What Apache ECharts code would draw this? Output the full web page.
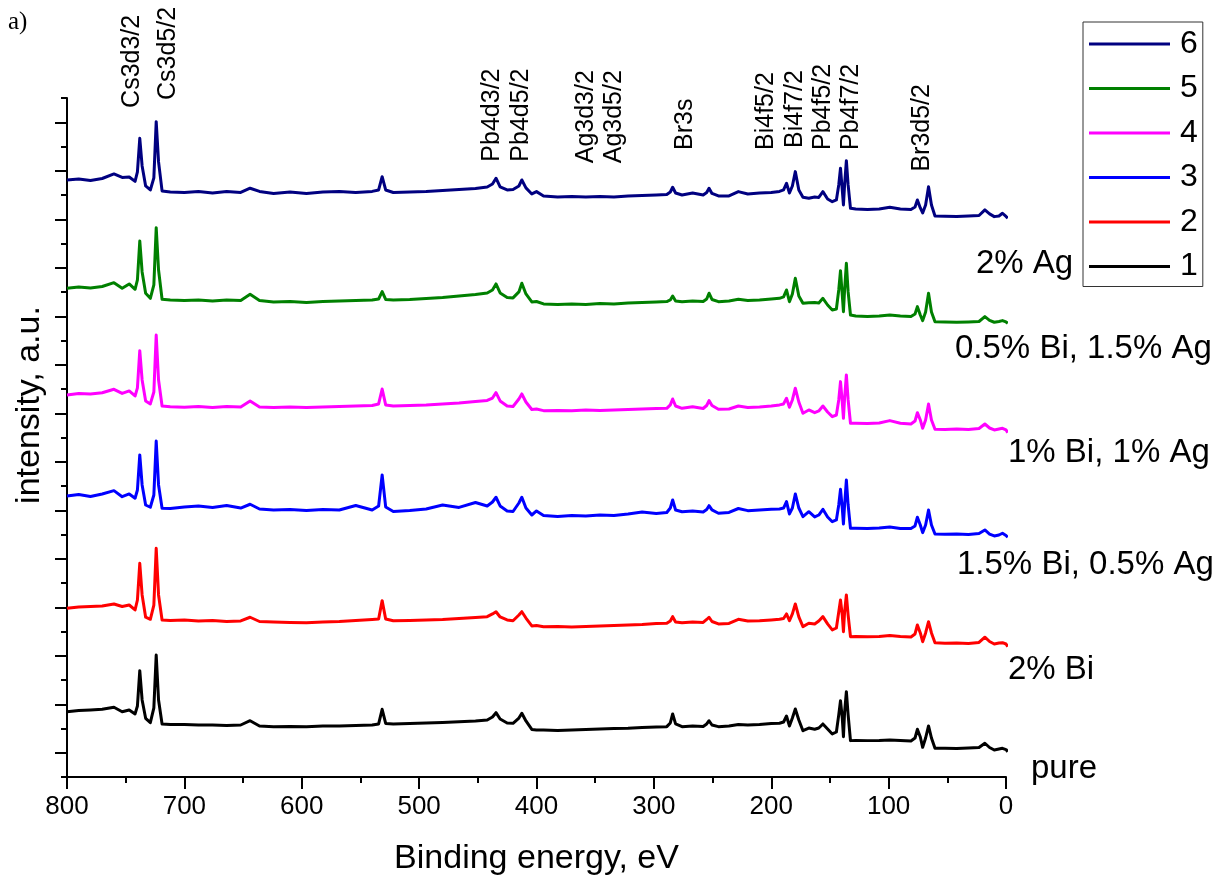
<!DOCTYPE html>
<html>
<head>
<meta charset="utf-8">
<script src="https://cdn.jsdelivr.net/npm/echarts@6/dist/echarts.min.js"></script>
<style>
  html, body { margin: 0; padding: 0; background: #ffffff; }
  #chart { width: 1232px; height: 881px; }
</style>
</head>
<body>
<div id="chart"></div>
<script>
// XPS survey spectra, binding energy in eV (descending), intensity in a.u. with vertical offsets
const energies = [
  800, 790, 780, 770, 760, 753, 747, 742, 740, 738,
  736, 733, 729, 726, 724, 722, 719, 712, 700, 688,
  676, 664, 652, 644, 636, 624, 610, 596, 582, 568,
  554, 540, 534.5, 531.5, 528.5, 522, 508, 494, 480, 466,
  452, 442, 437.5, 434.5, 431, 425, 420, 415, 412.5, 409,
  404, 400, 394, 382, 370, 358, 346, 334, 322, 310,
  298, 289, 286, 284, 281.5, 276, 267, 258, 255, 253,
  250.5, 245, 236, 228, 220, 210, 200, 193, 189.5, 187,
  184.5, 182, 179.5, 176.5, 173, 168, 163, 159.5, 156, 152,
  148, 144.5, 142.5, 141, 139.5, 138.5, 137.5, 136, 134.5, 132.5,
  128, 118, 108, 99, 90, 81, 77.5, 75.5, 73, 71,
  68.5, 66, 63.5, 60.5, 52, 42, 32, 23, 18, 14,
  10, 6, 3, 0, -1.5
];

// 1: pure
const pure = [
  67.3, 68.6, 69.1, 69.8, 71.9, 67.3, 69.1, 65.0, 73.2, 109.6,
  79.4, 60.5, 56.0, 71.2, 125.8, 79.4, 54.7, 54.1, 54.1, 53.6,
  53.6, 53.1, 53.6, 58.0, 52.6, 51.9, 52.1, 51.9, 52.6, 52.6,
  53.1, 53.6, 54.7, 69.8, 55.2, 54.7, 55.2, 55.7, 56.2, 57.0,
  57.8, 58.8, 61.9, 66.3, 59.8, 55.7, 55.4, 60.8, 65.7, 57.8,
  49.0, 48.5, 48.5, 48.0, 48.5, 49.0, 49.5, 50.0, 50.2, 51.0,
  51.5, 51.9, 55.7, 65.0, 54.7, 51.9, 52.6, 52.1, 54.7, 58.0,
  53.6, 51.9, 52.6, 54.1, 53.6, 54.1, 55.2, 55.4, 56.7, 62.9,
  52.6, 60.8, 70.1, 58.8, 47.7, 50.5, 49.2, 50.5, 54.7, 49.5,
  44.4, 46.4, 64.0, 78.7, 60.8, 41.6, 67.0, 88.0, 64.0, 37.5,
  37.6, 37.5, 37.6, 38.2, 37.6, 37.1, 40.2, 49.2, 41.2, 30.6,
  40.2, 52.6, 40.2, 29.6, 29.6, 29.4, 29.9, 30.4, 34.8, 30.4,
  27.8, 28.8, 29.6, 28.3, 26.1
];

// 2: 2% Bi
const bi2 = [
  173.9, 175.3, 175.8, 176.3, 178.4, 175.8, 177.3, 172.2, 182.5, 220.3,
  187.7, 164.7, 162.6, 177.3, 235.8, 187.7, 161.9, 161.4, 161.9, 160.9,
  161.4, 160.3, 160.9, 164.7, 160.3, 159.8, 159.3, 159.1, 159.8, 160.3,
  161.4, 162.4, 162.9, 181.8, 162.9, 161.1, 161.4, 161.9, 162.4, 163.4,
  164.5, 165.3, 168.1, 170.4, 165.0, 161.9, 161.1, 167.0, 170.4, 163.9,
  155.7, 156.2, 155.0, 155.2, 154.7, 155.2, 155.7, 156.2, 156.7, 157.2,
  158.3, 158.5, 160.9, 165.3, 159.8, 159.1, 159.8, 159.3, 162.4, 164.7,
  160.3, 157.8, 158.3, 162.6, 160.9, 161.1, 161.9, 162.6, 163.4, 168.1,
  161.1, 168.1, 178.4, 165.0, 155.0, 158.5, 157.8, 160.9, 165.3, 157.8,
  151.6, 153.6, 170.1, 182.5, 167.0, 149.8, 170.1, 187.7, 167.0, 144.7,
  144.9, 144.7, 144.9, 145.9, 144.9, 144.4, 147.5, 156.7, 148.5, 139.5,
  148.5, 160.1, 148.5, 138.5, 137.8, 138.2, 137.7, 138.7, 144.1, 139.7,
  137.1, 138.2, 138.5, 137.1, 134.3
];

// 3: 1.5% Bi, 0.5% Ag
const bi15ag05 = [
  289.7, 291.3, 289.2, 291.8, 295.2, 289.0, 291.8, 287.4, 295.9, 332.0,
  301.1, 280.4, 278.1, 290.7, 346.4, 301.1, 277.0, 276.8, 278.4, 279.4,
  277.9, 279.9, 277.3, 281.2, 276.3, 275.3, 275.8, 274.8, 275.8, 275.3,
  279.9, 275.3, 279.4, 311.4, 278.4, 273.7, 274.8, 276.3, 280.4, 277.9,
  283.0, 279.4, 283.5, 288.4, 279.4, 274.3, 273.7, 282.5, 288.4, 277.3,
  270.1, 274.3, 269.6, 268.6, 269.6, 269.1, 270.1, 269.6, 271.2, 273.2,
  271.7, 272.7, 277.3, 285.6, 275.3, 273.5, 274.3, 273.2, 275.8, 279.7,
  275.3, 271.9, 272.7, 276.8, 274.6, 275.3, 276.0, 276.3, 277.3, 283.9,
  271.2, 277.3, 291.8, 277.3, 268.4, 273.5, 268.1, 270.1, 276.0, 268.1,
  263.2, 265.0, 280.4, 296.6, 277.3, 260.8, 280.4, 306.2, 280.4, 256.4,
  256.4, 256.2, 256.7, 257.8, 256.2, 256.2, 258.8, 267.8, 259.8, 251.9,
  259.8, 275.3, 259.8, 250.5, 250.2, 250.5, 250.0, 251.0, 254.7, 250.5,
  248.5, 249.5, 251.3, 249.0, 247.1
];

// 4: 1% Bi, 1% Ag
const bi1ag1 = [
  393.9, 395.4, 394.9, 396.2, 399.7, 395.4, 398.0, 392.8, 401.1, 439.5,
  409.3, 387.7, 384.6, 396.9, 455.7, 409.3, 382.5, 381.8, 381.2, 382.0,
  381.0, 382.0, 381.5, 387.7, 381.5, 381.0, 381.5, 381.0, 381.5, 382.0,
  382.5, 383.0, 384.6, 400.0, 383.6, 382.5, 383.0, 383.6, 384.6, 385.6,
  387.1, 388.2, 390.7, 396.2, 387.7, 382.5, 382.0, 389.7, 394.9, 386.6,
  378.9, 379.4, 377.7, 377.9, 377.7, 378.4, 377.9, 378.4, 378.9, 379.4,
  379.9, 380.1, 383.6, 389.7, 382.5, 380.1, 381.8, 379.9, 383.0, 388.0,
  383.0, 379.1, 379.4, 382.5, 381.0, 381.5, 382.5, 383.6, 384.6, 390.5,
  381.2, 388.7, 400.8, 386.6, 375.0, 378.4, 375.6, 377.4, 382.5, 376.3,
  371.5, 373.2, 388.7, 407.6, 386.6, 369.8, 390.7, 414.5, 388.7, 364.7,
  364.7, 364.5, 365.0, 367.4, 364.7, 363.9, 367.0, 375.6, 368.1, 359.5,
  368.1, 384.6, 368.1, 358.5, 358.3, 358.8, 358.3, 359.3, 363.9, 359.8,
  357.8, 358.8, 359.5, 357.8, 355.0
];

// 5: 0.5% Bi, 1.5% Ag
const bi05ag15 = [
  503.9, 505.2, 504.2, 505.7, 509.6, 503.9, 508.3, 502.8, 512.4, 552.6,
  520.7, 498.7, 493.5, 507.3, 566.3, 522.7, 492.5, 491.8, 491.3, 491.8,
  490.8, 491.8, 491.3, 497.7, 491.3, 489.7, 490.2, 489.2, 490.2, 490.8,
  491.3, 491.8, 492.8, 500.4, 492.3, 491.8, 492.3, 493.3, 494.4, 495.9,
  497.5, 499.0, 502.1, 508.3, 499.0, 494.4, 493.9, 500.1, 509.0, 498.0,
  489.7, 490.2, 487.7, 487.2, 487.7, 487.2, 488.2, 487.7, 488.7, 489.2,
  489.7, 490.2, 491.8, 495.9, 490.8, 490.0, 490.8, 490.2, 492.8, 498.7,
  492.3, 490.0, 490.8, 492.5, 491.3, 491.8, 492.8, 493.5, 494.9, 502.1,
  490.0, 498.0, 514.2, 495.9, 488.4, 489.0, 489.2, 488.7, 493.5, 486.6,
  481.5, 482.5, 502.1, 522.0, 496.9, 479.7, 502.1, 529.6, 500.1, 476.3,
  475.3, 474.8, 475.3, 476.3, 475.3, 474.8, 477.4, 484.9, 476.3, 470.5,
  479.4, 498.7, 479.4, 469.4, 469.1, 468.8, 469.1, 469.6, 474.6, 470.7,
  468.8, 469.6, 470.5, 469.1, 467.8
];

// 6: 2% Ag
const ag2 = [
  615.5, 616.5, 615.0, 617.0, 621.7, 618.1, 618.6, 614.0, 623.8, 658.5,
  630.0, 609.3, 605.2, 617.6, 675.6, 634.1, 604.2, 603.1, 602.6, 603.7,
  602.1, 603.7, 602.6, 607.0, 603.7, 601.6, 603.1, 601.6, 603.1, 603.7,
  602.6, 603.7, 605.2, 618.9, 605.2, 602.6, 603.1, 603.7, 604.7, 605.7,
  606.8, 608.3, 611.4, 617.3, 608.3, 605.2, 605.7, 609.3, 615.5, 607.3,
  601.1, 603.5, 599.0, 598.0, 598.5, 598.0, 598.5, 598.0, 599.0, 599.5,
  600.0, 600.6, 603.1, 608.0, 602.1, 600.0, 602.1, 600.0, 602.6, 607.0,
  601.6, 599.0, 599.0, 603.5, 601.1, 602.1, 602.6, 603.7, 605.2, 612.1,
  602.1, 609.3, 624.1, 605.2, 597.7, 596.7, 598.0, 597.5, 603.5, 595.9,
  593.1, 594.9, 610.4, 627.6, 605.2, 589.7, 610.4, 635.4, 610.4, 586.3,
  585.6, 585.1, 585.6, 587.4, 585.6, 585.1, 587.7, 594.9, 586.7, 581.5,
  589.7, 608.6, 589.7, 578.4, 578.1, 577.9, 578.4, 578.9, 584.6, 580.5,
  577.7, 578.4, 581.2, 577.9, 576.0
];

const legendKeys = ['1', '2', '3', '4', '5', '6'];
const sampleNames = ['pure', '2% Bi', '1.5% Bi, 0.5% Ag', '1% Bi, 1% Ag', '0.5% Bi, 1.5% Ag', '2% Ag'];
const seriesColors = ['#000000', '#ff0000', '#0000ff', '#ff00ff', '#008000', '#000080'];

// Core-level assignments: name, binding energy of the label, intensity where the label starts
const peakNames = ['Cs3d3/2', 'Cs3d5/2', 'Pb4d3/2', 'Pb4d5/2', 'Ag3d3/2', 'Ag3d5/2',
                   'Br3s', 'Bi4f5/2', 'Bi4f7/2', 'Pb4f5/2', 'Pb4f7/2', 'Br3d5/2'];
const peakEnergies = [744.5, 713.5, 437.5, 413.5, 358.0, 334.0, 273.5, 204.5, 180.0, 156.0, 132.0, 71.5];
const peakLabelLevels = [689.8, 698.0, 634.4, 634.4, 632.7, 632.7, 646.4, 646.4, 648.5, 646.4, 646.4, 624.1];

// Binding-energy axis ticks and intensity-axis ticks (no labels on the intensity axis)
const xTicks = { min: 0, max: 800, step: 100 };
const yRange = { min: 0, max: 700, minorStep: 25 };
const yMajorTicks = [25, 75, 125, 175, 225, 275, 325, 375, 425, 475, 525, 575, 625, 675];

const FONT = "'Liberation Sans', Arial, Helvetica, sans-serif";

const chart = echarts.init(document.getElementById('chart'), null, { renderer: 'canvas' });

const spectra = [pure, bi2, bi15ag05, bi1ag1, bi05ag15, ag2];
const series = spectra.map((vals, i) => ({
  name: legendKeys[i],
  type: 'line',
  xAxisIndex: 0,
  yAxisIndex: 0,
  data: energies.map((e, j) => [e, vals[j]]),
  symbol: 'none',
  showSymbol: false,
  clip: false,
  color: seriesColors[i],
  lineStyle: { width: 3, color: seriesColors[i], join: 'round' },
  emphasis: { disabled: true },
  z: 2 + i
}));

const plotRect = { left: 67, right: 226, top: 98, bottom: 104, containLabel: false };

chart.setOption({
  animation: false,
  backgroundColor: '#ffffff',
  // second grid overlays the first and only carries the long intensity ticks
  grid: [Object.assign({}, plotRect), Object.assign({}, plotRect)],
  xAxis: [
    {
      gridIndex: 0,
      type: 'value',
      min: xTicks.min,
      max: xTicks.max,
      interval: xTicks.step,
      inverse: true,
      axisLine: { show: true, onZero: false, lineStyle: { color: '#000', width: 2 } },
      axisTick: { show: true, length: 12, lineStyle: { color: '#000', width: 2 } },
      minorTick: { show: true, splitNumber: 2, length: 6, lineStyle: { color: '#000', width: 2 } },
      axisLabel: { fontSize: 26, color: '#000', fontFamily: FONT, margin: 17 },
      splitLine: { show: false },
      name: 'Binding energy, eV',
      nameLocation: 'middle',
      nameGap: 65,
      nameTextStyle: { fontSize: 34, color: '#000', fontFamily: FONT }
    },
    {
      gridIndex: 1,
      type: 'value',
      min: xTicks.min,
      max: xTicks.max,
      inverse: true,
      show: false
    }
  ],
  yAxis: [
    {
      gridIndex: 0,
      type: 'value',
      min: yRange.min,
      max: yRange.max,
      interval: yRange.minorStep,
      position: 'left',
      axisLine: { show: true, onZero: false, lineStyle: { color: '#000', width: 2 } },
      axisTick: { show: true, length: 6, lineStyle: { color: '#000', width: 2 } },
      axisLabel: { show: false },
      splitLine: { show: false }
    },
    {
      gridIndex: 1,
      type: 'value',
      min: yRange.min,
      max: yRange.max,
      position: 'left',
      axisLine: { show: false, onZero: false },
      axisTick: { show: true, length: 12, customValues: yMajorTicks, lineStyle: { color: '#000', width: 2 } },
      axisLabel: { show: false, customValues: yMajorTicks },
      splitLine: { show: false }
    }
  ],
  legend: {
    data: legendKeys.slice().reverse(),
    orient: 'vertical',
    left: 1083,
    top: 22,
    padding: [6, 5, 4, 6],
    itemWidth: 81,
    itemHeight: 3,
    itemGap: 12.5,
    icon: 'rect',
    selectedMode: false,
    borderColor: '#333',
    borderWidth: 1,
    backgroundColor: '#fff',
    textStyle: { fontSize: 32, lineHeight: 32, color: '#000', fontFamily: FONT, padding: [0, 0, 0, 5] }
  },
  series: series
});

// Rotated core-level labels placed at their binding energies
const peakGraphics = peakNames.map((name, i) => {
  const p = chart.convertToPixel({ xAxisIndex: 0, yAxisIndex: 0 }, [peakEnergies[i], peakLabelLevels[i]]);
  return {
    type: 'text',
    x: p[0],
    y: p[1],
    rotation: Math.PI / 2,
    style: { text: name, fontSize: 25, fontFamily: FONT, fill: '#000', align: 'left', verticalAlign: 'middle' },
    silent: true
  };
});

// Sample names next to each spectrum
const sampleLabelPos = [[1031, 769], [1008, 670], [957, 565], [1008, 453], [955, 349], [976, 264]];
const sampleGraphics = sampleNames.map((name, i) => ({
  type: 'text',
  x: sampleLabelPos[i][0],
  y: sampleLabelPos[i][1],
  style: { text: name, fontSize: 33, fontFamily: FONT, fill: '#000', align: 'left', verticalAlign: 'middle' },
  silent: true
}));

chart.setOption({
  graphic: [
    {
      type: 'text', x: 30, y: 405, rotation: Math.PI / 2,
      style: { text: 'intensity, a.u.', fontSize: 34, fontFamily: FONT, fill: '#000', align: 'center', verticalAlign: 'middle' },
      silent: true
    },
    {
      type: 'text', x: 8, y: 22,
      style: { text: 'a)', fontSize: 25, fontFamily: "'Liberation Serif', 'Times New Roman', serif", fill: '#000', align: 'left', verticalAlign: 'middle' },
      silent: true
    }
  ].concat(peakGraphics, sampleGraphics)
});
</script>
</body>
</html>
